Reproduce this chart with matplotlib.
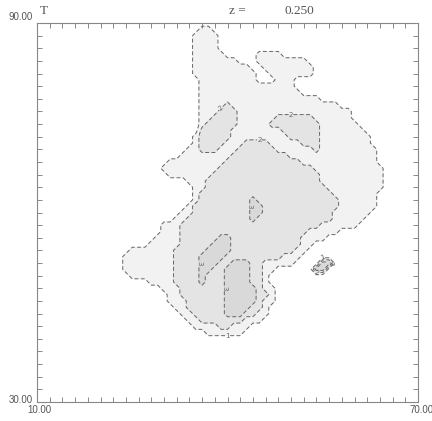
import numpy as np
import matplotlib.pyplot as plt

# contour level of the field on a 1x1 grid: rows run from T = 90 down to T = 38,
# columns from x = 20 to x = 66 (spaces are only there to keep the rows readable)
x_vals = np.arange(20, 67)
t_vals = np.arange(90, 37, -1)
level_rows = [
    "000000000 000000000000000000000000000000000000 00",
    "000000000 000000011000000000000000000000000000 00",
    "000000000 000000111100000000000000000000000000 00",
    "000000000 000000111100000000000000000000000000 00",
    "000000000 000000111100000000000000000000000000 00",
    "000000000 000000111110000011110000000000000000 00",
    "000000000 000000111111100011111111000000000000 00",
    "000000000 000000111111111001111111100000000000 00",
    "000000000 000000111111111100111111100000000000 00",
    "000000000 000000011111111100011100000000000000 00",
    "000000000 000000011111111111111100000000000000 00",
    "000000000 000000011111111111111110000000000000 00",
    "000000000 000000011111111111111111110000000000 00",
    "000000000 000000011112111111111111111110000000 00",
    "000000000 000000011122211111111111111111100000 00",
    "000000000 000000011222211111122222211111100000 00",
    "000000000 000000012222211111222222221111110000 00",
    "000000000 000000022222111111112222221111111000 00",
    "000000000 000000122222111111111222221111111100 00",
    "000000000 000000122221112222111112221111111100 00",
    "000000000 000001122211122222211111121111111110 00",
    "000000000 000011111111222222222111111111111110 00",
    "000000000 001111111112222222222221111111111110 00",
    "000000000 011111111122222222222222211111111111 00",
    "000000000 001111111222222222222222221111111111 00",
    "000000000 000001112222222222222222221111111111 00",
    "000000000 000000112222222222222222222111111111 00",
    "000000000 000000122222222222222222222211111110 00",
    "000000000 000000122222222322222222222221111110 00",
    "000000000 000001222222222332222222222221111110 00",
    "00000000000001122222222233222222222221111110000",
    "00000000000011222222222232222222222221111100000",
    "00000000001112222222222222222222222111111000000",
    "00000000001112222222222222222222211111000000000",
    "00000000011112222223322222222222111100000000000",
    "00000000111112222233322222222222110000000000000",
    "00000111111122222333322222222221100000000000000",
    "00001111111122223333222222222111000000000000000",
    "00001111111122223332233322111110000330000000000",
    "00001111111122223322333322110000003300000000000",
    "00000111111122223222333322100000000000000000000",
    "00000000111122223222333322100000000000000000000",
    "00000000001112222222333332110000000000000000000",
    "00000000000112222222333332210000000000000000000",
    "00000000000111222222333332110000000000000000000",
    "00000000000011222222333322100000000000000000000",
    "00000000000001122222333221100000000000000000000",
    "00000000000000112222222111000000000000000000000",
    "00000000000000011112211100000000000000000000000",
    "00000000000000000111111000000000000000000000000",
    "00000000000000000000000000000000000000000000000",
    "00000000000000000000000000000000000000000000000",
    "00000000000000000000000000000000000000000000000",
]
levels = [0.5, 1.5, 2.5, 3.5]
level_names = {0.5: '1', 1.5: '2', 2.5: '3'}
fill_colors = ['#f2f2f2', '#e4e4e4', '#d9d9d9']
z_value = 0.250

Z = np.array([[int(c) for c in r.replace(' ', '')] for r in level_rows])

grey = '#666666'
fig = plt.figure(figsize=(4.32, 4.21), dpi=100)
ax = fig.add_axes([37 / 432, 19 / 421, 381 / 432, 379 / 421])
ax.contourf(x_vals, t_vals, Z, levels=levels, colors=fill_colors)
cs = ax.contour(x_vals, t_vals, Z, levels=levels[:-1], colors=grey, linewidths=0.7)
cs.set_linestyle((0, (4, 2.5)))
ax.clabel(cs, fmt=level_names, fontsize=5, colors=grey, inline=True, inline_spacing=1)

ax.set_xlim(10, 70)
ax.set_ylim(30, 90)
ax.set_xticks(np.arange(10, 71, 2))
ax.set_yticks(np.arange(30, 91, 2))
ax.tick_params(direction='in', length=3.5, width=0.7, color='#888888',
               top=True, right=True, labelbottom=False, labelleft=False)
for s in ax.spines.values():
    s.set_color('#888888')
    s.set_linewidth(0.8)

# end labels of the axes
tk = dict(fontsize=7, color='#555555', family='Liberation Sans')
fig.text(33 / 432, 1 - 17 / 421, '90.00', ha='right', va='center', **tk)
fig.text(33 / 432, 1 - 400 / 421, '30.00', ha='right', va='center', **tk)
fig.text(39 / 432, 1 - 410 / 421, '10.00', ha='center', va='center', **tk)
fig.text(409 / 432, 1 - 410 / 421, '70.00', ha='left', va='center', **tk)

tt = dict(fontsize=9.5, color='#555555', family='Liberation Serif')
fig.text(40 / 432, 1 - 11 / 421, 'T', ha='left', va='center', **tt)
fig.text(229 / 432, 1 - 11 / 421, 'z =', ha='left', va='center', **tt)
fig.text(314 / 432, 1 - 11 / 421, '%.3f' % z_value, ha='right', va='center', **tt)

fig.savefig('out.png')
